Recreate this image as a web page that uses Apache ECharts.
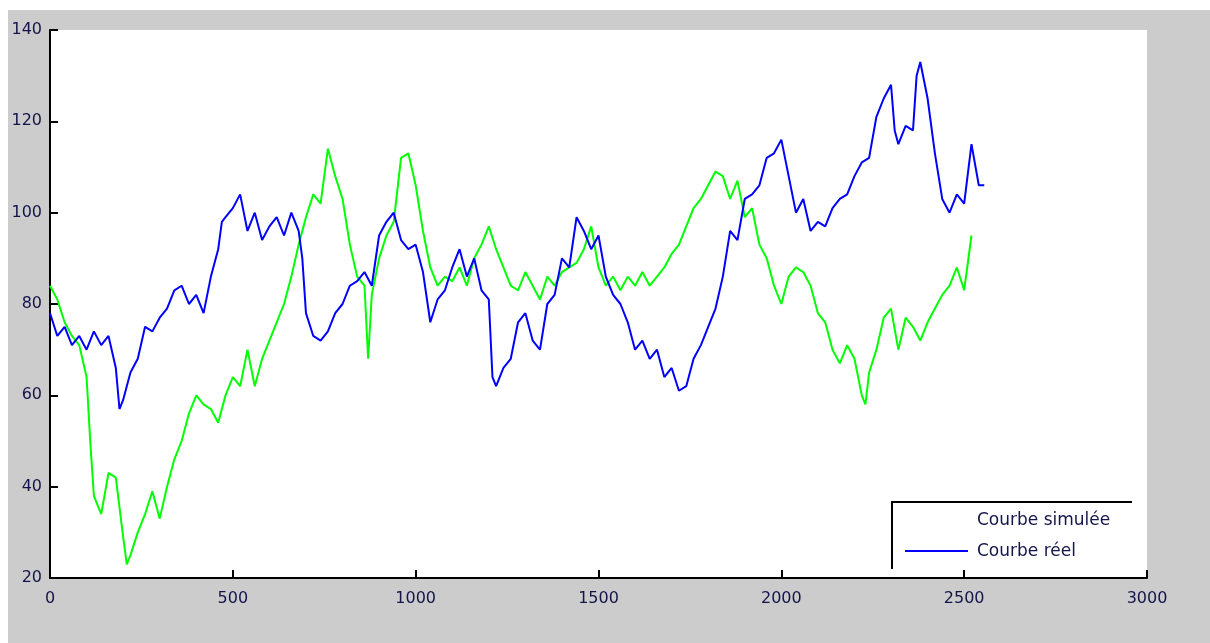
<!DOCTYPE html>
<html>
<head>
<meta charset="utf-8">
<script src="https://cdn.jsdelivr.net/npm/echarts@6/dist/echarts.min.js"></script>
<style>
html,body{margin:0;padding:0;background:#fff;}
#chart{width:1210px;height:643px;}
</style>
</head>
<body>
<div id="chart"></div>
<script>
// ---- data ----
const xTicks = [0, 500, 1000, 1500, 2000, 2500, 3000];
const yTicks = [20, 40, 60, 80, 100, 120, 140];
const legendNames = ['Courbe simulée', 'Courbe réel'];

const simX = [0,20,40,60,80,100,110,120,140,160,180,200,210,220,240,260,280,300,320,340,360,380,400,420,440,460,480,500,520,540,560,580,600,620,640,660,680,700,720,740,760,780,800,820,840,860,870,880,900,920,940,960,980,1000,1020,1040,1060,1080,1100,1120,1140,1160,1180,1200,1220,1240,1260,1280,1300,1320,1340,1360,1380,1400,1420,1440,1460,1480,1500,1520,1540,1560,1580,1600,1620,1640,1660,1680,1700,1720,1740,1760,1780,1800,1820,1840,1860,1880,1900,1920,1940,1960,1980,2000,2020,2040,2060,2080,2100,2120,2140,2160,2180,2200,2220,2230,2240,2260,2280,2300,2320,2340,2360,2380,2400,2420,2440,2460,2480,2500,2520];
const simY = [84,81,76,73,71,64,50,38,34,43,42,29,23,25,30,34,39,33,40,46,50,56,60,58,57,54,60,64,62,70,62,68,72,76,80,86,93,99,104,102,114,108,103,93,86,84,68,82,90,95,98,112,113,106,96,88,84,86,85,88,84,90,93,97,92,88,84,83,87,84,81,86,84,87,88,89,92,97,88,84,86,83,86,84,87,84,86,88,91,93,97,101,103,106,109,108,103,107,99,101,93,90,84,80,86,88,87,84,78,76,70,67,71,68,60,58,65,70,77,79,70,77,75,72,76,79,82,84,88,83,95];

const reelX = [0,20,40,60,80,100,120,140,160,180,190,200,220,240,260,280,300,320,340,360,380,400,420,440,460,470,480,500,520,540,560,580,600,620,640,660,680,690,700,720,740,760,780,800,820,840,860,880,900,920,940,960,980,1000,1020,1040,1060,1080,1100,1120,1140,1160,1180,1200,1210,1220,1240,1260,1280,1300,1320,1340,1360,1380,1400,1420,1440,1460,1480,1500,1520,1540,1560,1580,1600,1620,1640,1660,1680,1700,1720,1740,1760,1780,1800,1820,1840,1860,1880,1900,1920,1940,1960,1980,2000,2020,2040,2060,2080,2100,2120,2140,2160,2180,2200,2220,2240,2260,2280,2300,2310,2320,2340,2360,2370,2380,2400,2420,2440,2460,2480,2500,2520,2540,2555];
const reelY = [78,73,75,71,73,70,74,71,73,66,57,59,65,68,75,74,77,79,83,84,80,82,78,86,92,98,99,101,104,96,100,94,97,99,95,100,96,90,78,73,72,74,78,80,84,85,87,84,95,98,100,94,92,93,87,76,81,83,88,92,86,90,83,81,64,62,66,68,76,78,72,70,80,82,90,88,99,96,92,95,86,82,80,76,70,72,68,70,64,66,61,62,68,71,75,79,86,96,94,103,104,106,112,113,116,108,100,103,96,98,97,101,103,104,108,111,112,121,125,128,118,115,119,118,130,133,125,113,103,100,104,102,115,106,106];

const simData = simX.map((x, i) => [x, simY[i]]);
const reelData = reelX.map((x, i) => [x, reelY[i]]);

const chart = echarts.init(document.getElementById('chart'));
const font = '"DejaVu Sans", Verdana, sans-serif';
const textColor = '#14144a';
chart.setOption({
  animation: false,
  backgroundColor: '#ffffff',
  graphic: [
    { type: 'rect', z: -10, shape: { x: 8, y: 10, width: 1202, height: 633 }, style: { fill: '#cccccc' } },
    // legend box (partial frame, as in the reference)
    { type: 'rect', z: 99, shape: { x: 893, y: 503, width: 238, height: 66 }, style: { fill: '#ffffff' } },
    { type: 'polyline', z: 100, shape: { points: [[892, 569], [892, 502], [1132, 502]] }, style: { stroke: '#000', lineWidth: 2, fill: null } },
    { type: 'text', z: 100, style: { x: 977, y: 521, text: legendNames[0], font: '17px ' + font, fill: textColor, verticalAlign: 'middle' } },
    { type: 'line', z: 100, shape: { x1: 905, y1: 551, x2: 968, y2: 551 }, style: { stroke: '#0000ff', lineWidth: 2 } },
    { type: 'text', z: 100, style: { x: 977, y: 552, text: legendNames[1], font: '17px ' + font, fill: textColor, verticalAlign: 'middle' } }
  ],
  grid: { left: 50, right: 63, top: 30, bottom: 65, show: true, backgroundColor: '#ffffff', borderWidth: 0 },
  xAxis: {
    type: 'value',
    min: 0, max: 3000, interval: 500,
    axisLine: { show: true, lineStyle: { color: '#000', width: 2 } },
    axisTick: { show: true, inside: true, length: 8, lineStyle: { color: '#000', width: 2 } },
    axisLabel: { fontFamily: font, fontSize: 16, color: textColor, margin: 13,
      formatter: v => xTicks.includes(v) ? String(v) : '' },
    splitLine: { show: false }
  },
  yAxis: {
    type: 'value',
    min: 20, max: 140, interval: 20,
    axisLine: { show: true, lineStyle: { color: '#000', width: 2 } },
    axisTick: { show: true, inside: true, length: 8, lineStyle: { color: '#000', width: 2 } },
    axisLabel: { fontFamily: font, fontSize: 16, color: textColor, margin: 8,
      formatter: v => yTicks.includes(v) ? String(v) : '' },
    splitLine: { show: false }
  },
  series: [
    { name: legendNames[0], type: 'line', data: simData, showSymbol: false,
      lineStyle: { color: '#00ff00', width: 2 }, itemStyle: { color: '#00ff00' } },
    { name: legendNames[1], type: 'line', data: reelData, showSymbol: false,
      lineStyle: { color: '#0000ff', width: 2 }, itemStyle: { color: '#0000ff' } }
  ]
});
</script>
</body>
</html>
